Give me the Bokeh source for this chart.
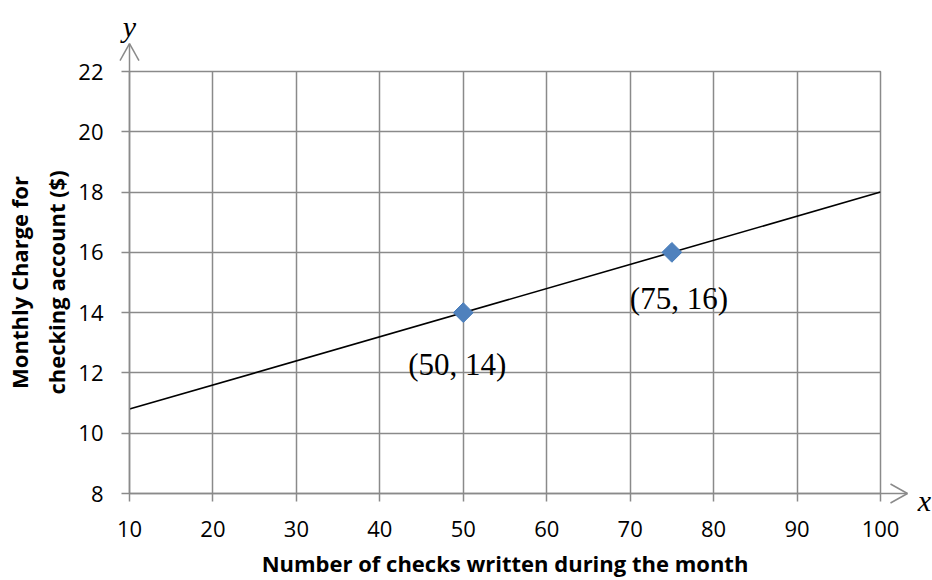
import math
from bokeh.plotting import figure
from bokeh.models import Range1d, FixedTicker, ColumnDataSource
from bokeh.core.properties import value
from bokeh.embed import file_html
from bokeh.resources import INLINE

# ---- data ----
line_x = [10, 100]
line_y = [10.8, 18.0]
pts_x = [50, 75]
pts_y = [14, 16]
pt_labels = ["(50, 14)", "(75, 16)"]
x_ticks = [10, 20, 30, 40, 50, 60, 70, 80, 90, 100]
y_ticks = [8, 10, 12, 14, 16, 18, 20, 22]
x_title = "Number of checks written during the month"
y_title = "Monthly Charge for\nchecking account ($)"

X_MIN, X_MAX = 10, 100
Y_MIN, Y_MAX = 8, 22

# ---- layout (pixels) ----
W, H = 932, 580
F_LEFT, F_RIGHT, F_TOP, F_BOTTOM = 128, 880, 71, 494
PX_X = (F_RIGHT - F_LEFT) / (X_MAX - X_MIN)
PX_Y = (F_BOTTOM - F_TOP) / (Y_MAX - Y_MIN)

GRID = "#8a8a8a"

p = figure(width=W, height=H, output_backend="svg", toolbar_location=None,
           x_range=Range1d(X_MIN, X_MAX), y_range=Range1d(Y_MIN, Y_MAX),
           min_border_left=F_LEFT, min_border_right=W - F_RIGHT,
           min_border_top=F_TOP, min_border_bottom=H - F_BOTTOM)
p.outline_line_color = GRID
p.outline_line_width = 1.5
p.background_fill_color = "white"

for ax, ticks in ((p.xaxis[0], x_ticks), (p.yaxis[0], y_ticks)):
    ax.ticker = FixedTicker(ticks=ticks)
    ax.axis_line_color = GRID
    ax.axis_line_width = 1.5
    ax.major_tick_line_color = GRID
    ax.major_tick_line_width = 1.5
    ax.major_tick_in = 0
    ax.major_tick_out = 8
    ax.minor_tick_line_color = None
    ax.major_label_text_font = "Open Sans"
    ax.major_label_text_font_size = "22px"
    ax.major_label_text_color = "#000000"
    ax.axis_label_text_font = "Open Sans"
    ax.axis_label_text_font_style = "bold"
    ax.axis_label_text_font_size = "22px"
    ax.axis_label_text_color = "#000000"
    ax.axis_label_text_line_height = 1.25

p.xaxis.axis_label = x_title
p.yaxis.axis_label = y_title
p.xaxis.major_label_standoff = 19
p.yaxis.major_label_standoff = 18
p.xaxis.axis_label_standoff = 8
p.yaxis.axis_label_standoff = 4

p.xgrid.ticker = FixedTicker(ticks=x_ticks)
p.ygrid.ticker = FixedTicker(ticks=y_ticks)
for g in (p.xgrid, p.ygrid):
    g.grid_line_color = GRID
    g.grid_line_width = 1.5

# axis arrows (open heads), drawn above the frame clip
y_tip = Y_MAX + 28 / PX_Y
x_tip = X_MAX + 27 / PX_X
hw_x, hl_y = 9.5 / PX_X, 17 / PX_Y     # y-arrow head half-width / length
hl_x, hw_y = 17 / PX_X, 9.5 / PX_Y     # x-arrow head length / half-width
ax0 = [X_MIN, X_MIN - hw_x, X_MIN + hw_x, X_MAX, x_tip - hl_x, x_tip - hl_x]
ay0 = [Y_MAX, y_tip - hl_y, y_tip - hl_y, Y_MIN, Y_MIN + hw_y, Y_MIN - hw_y]
ax1 = [X_MIN, X_MIN, X_MIN, x_tip, x_tip, x_tip]
ay1 = [y_tip, y_tip, y_tip, Y_MIN, Y_MIN, Y_MIN]
p.segment(x0=ax0, y0=ay0, x1=ax1, y1=ay1, line_color=GRID, line_width=1.5, level="overlay")

p.text(x=[X_MIN], y=[Y_MAX], text=["y"], y_offset=-45, text_align="center",
       text_baseline="alphabetic", text_font=value("Liberation Serif"),
       text_font_style="italic", text_font_size="30px", text_color="black", level="overlay")
p.text(x=[X_MAX], y=[Y_MIN], text=["x"], x_offset=44, y_offset=7, text_align="center",
       text_baseline="alphabetic", text_font=value("Liberation Serif"),
       text_font_style="italic", text_font_size="30px", text_color="black", level="overlay")

p.line(line_x, line_y, line_color="black", line_width=1.6)
p.scatter(pts_x, pts_y, marker="square", size=14, angle=math.pi / 4,
          fill_color="#4F81BD", line_color="#4A7EBB", line_width=1)

src = ColumnDataSource(dict(x=pts_x, y=pts_y, t=pt_labels, dx=[-6, 7], dy=[52, 46]))
p.text(x="x", y="y", text="t", source=src, x_offset="dx", y_offset="dy",
       text_align="center", text_baseline="middle", text_font_size="31px",
       text_font=value("Liberation Serif"), text_color="black")

open("out.html", "w").write(file_html(p, INLINE))
